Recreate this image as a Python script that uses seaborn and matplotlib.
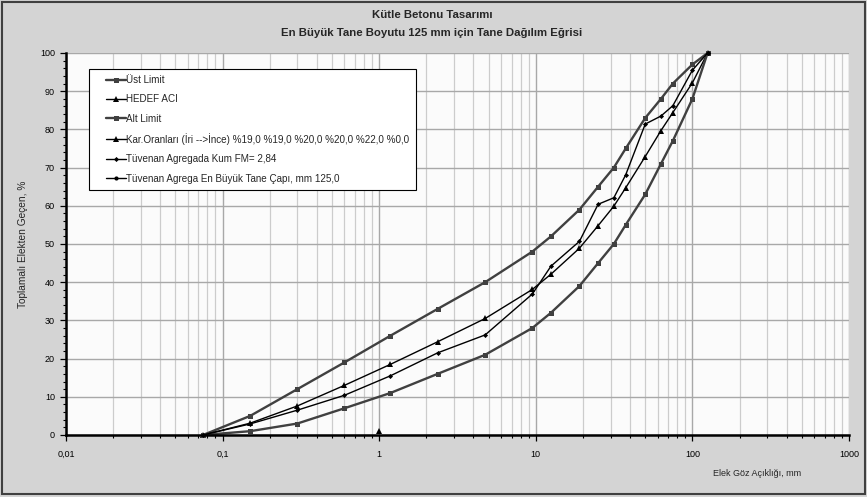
import matplotlib
matplotlib.use("Agg")
import matplotlib.pyplot as plt
import seaborn as sns
import pandas as pd
from matplotlib.ticker import FixedLocator, FuncFormatter, MultipleLocator, NullFormatter, LogLocator
from matplotlib.patches import Rectangle
from matplotlib.lines import Line2D
from matplotlib.legend_handler import HandlerLine2D

# ---- data ----
sieve = [0.075, 0.15, 0.3, 0.6, 1.18, 2.36, 4.75, 9.5, 12.5, 19, 25, 31.5, 37.5, 50, 63, 75, 100, 125]
ust_limit = [0, 5, 12, 19, 26, 33, 40, 48, 52, 59, 65, 70, 75, 83, 88, 92, 97, 100]
hedef_aci = [0, 3.1, 7.6, 13, 18.5, 24.4, 30.5, 38.1, 42.1, 48.9, 54.8, 59.9, 64.7, 72.9, 79.7, 84.4, 92.2, 100]
alt_limit = [0, 1, 3, 7, 11, 16, 21, 28, 32, 39, 45, 50, 55, 63, 71, 77, 88, 100]
tuvenan_kum = [0, 2.9, 6.5, 10.4, 15.5, 21.5, 26.2, 36.9, 44.2, 50.7, 60.4, 62.1, 68.1, 81.4, 83.5, 86.2, 95.5, 100]
kar_x = [1]
kar_y = [1]
ebt_x = [125]
ebt_y = [100]

labels = ["Üst Limit", "HEDEF ACI", "Alt Limit",
          "Kar.Oranları (İri -->İnce) %19,0 %19,0 %20,0 %20,0 %22,0 %0,0",
          "Tüvenan Agregada Kum FM= 2,84",
          "Tüvenan Agrega En Büyük Tane Çapı, mm 125,0"]
x_ticks = [0.01, 0.1, 1, 10, 100, 1000]
y_ticks = list(range(0, 101, 10))

series = [
    (labels[0], sieve, ust_limit),
    (labels[1], sieve, hedef_aci),
    (labels[2], sieve, alt_limit),
    (labels[3], kar_x, kar_y),
    (labels[4], sieve, tuvenan_kum),
    (labels[5], ebt_x, ebt_y),
]
styles = {
    labels[0]: dict(color="#404040", marker="s", lw=1.7, ms=3.6),
    labels[1]: dict(color="#000000", marker="^", lw=1.0, ms=3.8),
    labels[2]: dict(color="#404040", marker="s", lw=1.7, ms=3.6),
    labels[3]: dict(color="#000000", marker="^", lw=1.0, ms=3.8),
    labels[4]: dict(color="#000000", marker="D", lw=1.0, ms=2.6),
    labels[5]: dict(color="#000000", marker="o", lw=1.0, ms=3.0),
}

sns.set_theme(style="white")
plt.rcParams['font.family'] = ['Liberation Sans', 'DejaVu Sans']

fig = plt.figure(figsize=(8.67, 4.97), dpi=100, facecolor="#d4d4d4")
ax = fig.add_axes([66 / 867, 1 - 435 / 497, 783 / 867, 382 / 497])
ax.set_facecolor("#fbfbfb")

for name, xs, ys in series:
    df = pd.DataFrame({"x": xs, "y": ys})
    st = styles[name]
    sns.lineplot(data=df, x="x", y="y", ax=ax, color=st["color"], marker=st["marker"],
                 linewidth=st["lw"], markersize=st["ms"], markeredgewidth=0,
                 markerfacecolor=st["color"], sort=False, estimator=None,
                 label=name, clip_on=False, zorder=3)

ax.set_xscale("log")
ax.set_xlim(0.01, 1000)
ax.set_ylim(0, 100)
ax.xaxis.set_major_locator(FixedLocator(x_ticks))
ax.xaxis.set_minor_locator(LogLocator(base=10, subs=range(2, 10)))
ax.xaxis.set_minor_formatter(NullFormatter())
ax.xaxis.set_major_formatter(FuncFormatter(lambda v, p: f"{v:g}".replace(".", ",")))
ax.yaxis.set_major_locator(FixedLocator(y_ticks))
ax.yaxis.set_minor_locator(MultipleLocator(2))

ax.set_axisbelow(True)
ax.grid(which="major", axis="both", color="#a8a8a8", lw=1.0)
ax.grid(which="minor", axis="x", color="#cccccc", lw=0.9)

for s in ["top", "right"]:
    ax.spines[s].set_visible(False)
for s in ["left", "bottom"]:
    ax.spines[s].set_color("black")
    ax.spines[s].set_linewidth(1.8)
    ax.spines[s].set_zorder(4)

ax.tick_params(axis="both", which="major", direction="out", length=4, width=0.9,
               color="black", labelsize=6.5, labelcolor="black", bottom=True, left=True)
ax.tick_params(axis="both", which="minor", direction="out", length=2.5, width=0.8,
               color="black", bottom=True, left=True)
ax.tick_params(axis="x", which="major", pad=7)
ax.tick_params(axis="y", which="major", pad=4)
ax.set_xlabel("")
ax.set_ylabel("")

leg = ax.legend(loc="upper left", bbox_to_anchor=(0.0294, 0.958), frameon=True,
                fancybox=False, edgecolor="black", framealpha=1, facecolor="white",
                fontsize=7.1, labelspacing=0.95, handlelength=3.1, handletextpad=0.1,
                borderpad=0.6, borderaxespad=0,
                handler_map={Line2D: HandlerLine2D(xpad=1.1)})
leg.get_frame().set_linewidth(0.8)

fig.text(432 / 867, 1 - 15 / 497, "Kütle Betonu Tasarımı", ha="center", va="center",
         fontsize=8.2, weight="bold")
fig.text(432 / 867, 1 - 33 / 497, "En Büyük Tane Boyutu 125 mm için Tane Dağılım Eğrisi",
         ha="center", va="center", fontsize=8.2, weight="bold")
fig.text(757 / 867, 1 - 474 / 497, "Elek Göz Açıklığı, mm", ha="center", va="center",
         fontsize=6.5)
fig.text(23 / 867, 1 - 244 / 497, "Toplamalı Elekten Geçen, %", ha="center", va="center",
         rotation=90, fontsize=7.3)

fig.patches.append(Rectangle((2 / 867, 3 / 497), 863 / 867, 492 / 497, transform=fig.transFigure,
                             fill=False, edgecolor="#404040", lw=1.5))

fig.savefig("out.png", dpi=100, facecolor=fig.get_facecolor())
